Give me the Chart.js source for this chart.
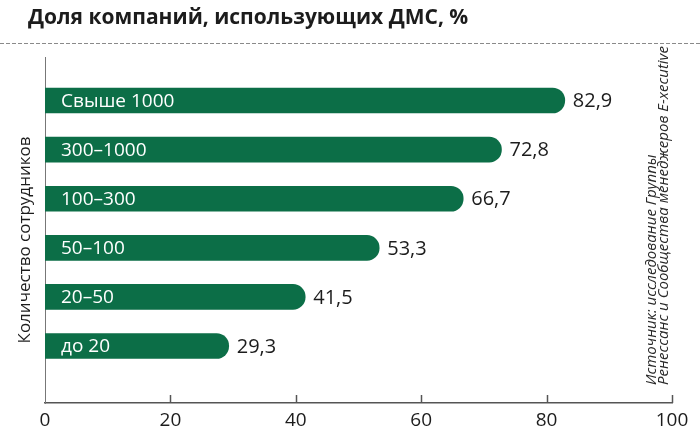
<!DOCTYPE html>
<html>
<head>
<meta charset="utf-8">
<script src="https://cdn.jsdelivr.net/npm/chart.js@4"></script>
<style>
  html, body { margin: 0; padding: 0; background: #ffffff; }
  #wrap { width: 700px; height: 428px; position: relative; }
</style>
</head>
<body>
<div id="wrap"><canvas id="c" width="700" height="428"></canvas></div>
<script>
const categories = ['Свыше 1000', '300–1000', '100–300', '50–100', '20–50', 'до 20'];
const shares = [82.9, 72.8, 66.7, 53.3, 41.5, 29.3];
const xTicks = [0, 20, 40, 60, 80, 100];
const titleText = 'Доля компаний, использующих ДМС, %';
const yTitleText = 'Количество сотрудников';
const sourceLines = ['Источник: исследование Группы', 'Ренессанс и Сообщества менеджеров E-xecutive'];

const GREEN = '#0c6e47';
const FONT = "'Open Sans', 'Noto Sans', sans-serif";

const decorPlugin = {
  id: 'decor',
  afterDraw(chart) {
    const ctx = chart.ctx;
    const xs = chart.scales.x;
    const area = chart.chartArea;
    ctx.save();
    // title
    ctx.fillStyle = '#1c1c1c';
    ctx.font = "bold 21px " + FONT;
    ctx.textAlign = 'left';
    ctx.textBaseline = 'alphabetic';
    ctx.fillText(titleText, 28, 24);
    // dashed separator
    ctx.strokeStyle = '#8a8a8a';
    ctx.lineWidth = 1;
    ctx.setLineDash([4, 2]);
    ctx.beginPath();
    ctx.moveTo(0, 43.5);
    ctx.lineTo(700, 43.5);
    ctx.stroke();
    ctx.setLineDash([]);
    // x tick marks pointing up
    ctx.strokeStyle = '#555';
    ctx.lineWidth = 1.5;
    xTicks.forEach(v => {
      if (v === 0) return;
      const px = Math.round(xs.getPixelForValue(v)) + 0.5;
      ctx.beginPath();
      ctx.moveTo(px, area.bottom);
      ctx.lineTo(px, area.bottom - 8);
      ctx.stroke();
    });
    // bar labels
    const meta = chart.getDatasetMeta(0);
    meta.data.forEach((bar, i) => {
      const y = bar.y;
      ctx.textBaseline = 'middle';
      ctx.textAlign = 'left';
      ctx.fillStyle = '#ffffff';
      ctx.font = "19px " + FONT;
      ctx.fillText(categories[i], area.left + 16, y + 1);
      ctx.fillStyle = '#1c1c1c';
      ctx.font = "20px " + FONT;
      ctx.fillText(shares[i].toFixed(1).replace('.', ','), bar.x + 8, y + 1);
    });
    // y axis title
    ctx.save();
    ctx.translate(25, 240);
    ctx.rotate(-Math.PI / 2);
    ctx.textAlign = 'center';
    ctx.textBaseline = 'middle';
    ctx.fillStyle = '#1c1c1c';
    ctx.font = "17px " + FONT;
    ctx.fillText(yTitleText, 0, 0);
    ctx.restore();
    // source text
    ctx.save();
    ctx.translate(652, 385);
    ctx.rotate(-Math.PI / 2);
    ctx.textAlign = 'left';
    ctx.textBaseline = 'middle';
    ctx.fillStyle = '#2a2a2a';
    ctx.font = "italic 15px " + FONT;
    ctx.fillText(sourceLines[0], 0, 0);
    ctx.fillText(sourceLines[1], 0, 12);
    ctx.restore();
    ctx.restore();
  }
};

new Chart(document.getElementById('c'), {
  type: 'bar',
  data: {
    datasets: [{
      data: shares.map((v, i) => ({ x: v, y: i })),
      backgroundColor: GREEN,
      borderWidth: 0,
      borderRadius: 13,
      borderSkipped: 'start',
      barThickness: 25
    }]
  },
  options: {
    indexAxis: 'y',
    responsive: false,
    animation: false,
    layout: { padding: { top: 57, right: 28, left: 0, bottom: 0 } },
    plugins: {
      legend: { display: false },
      tooltip: { enabled: false },
      title: { display: false }
    },
    scales: {
      x: {
        type: 'linear',
        position: 'bottom',
        min: 0,
        max: 100,
        afterBuildTicks: s => { s.ticks = xTicks.map(v => ({ value: v })); },
        afterFit: s => { s.height = 25; },
        grid: { display: false, drawTicks: false },
        border: { display: true, color: '#555', width: 1.5 },
        ticks: {
          padding: 6,
          color: '#1c1c1c',
          font: { family: FONT, size: 19 },
          callback: v => String(v)
        }
      },
      y: {
        type: 'linear',
        reverse: true,
        offset: false,
        min: -0.886,
        max: 6.16,
        afterFit: s => { s.width = 45; },
        grid: { display: false, drawTicks: false },
        border: { display: true, color: '#777', width: 1, dash: [3, 2] },
        ticks: { display: false }
      }
    }
  },
  plugins: [decorPlugin]
});
</script>
</body>
</html>
